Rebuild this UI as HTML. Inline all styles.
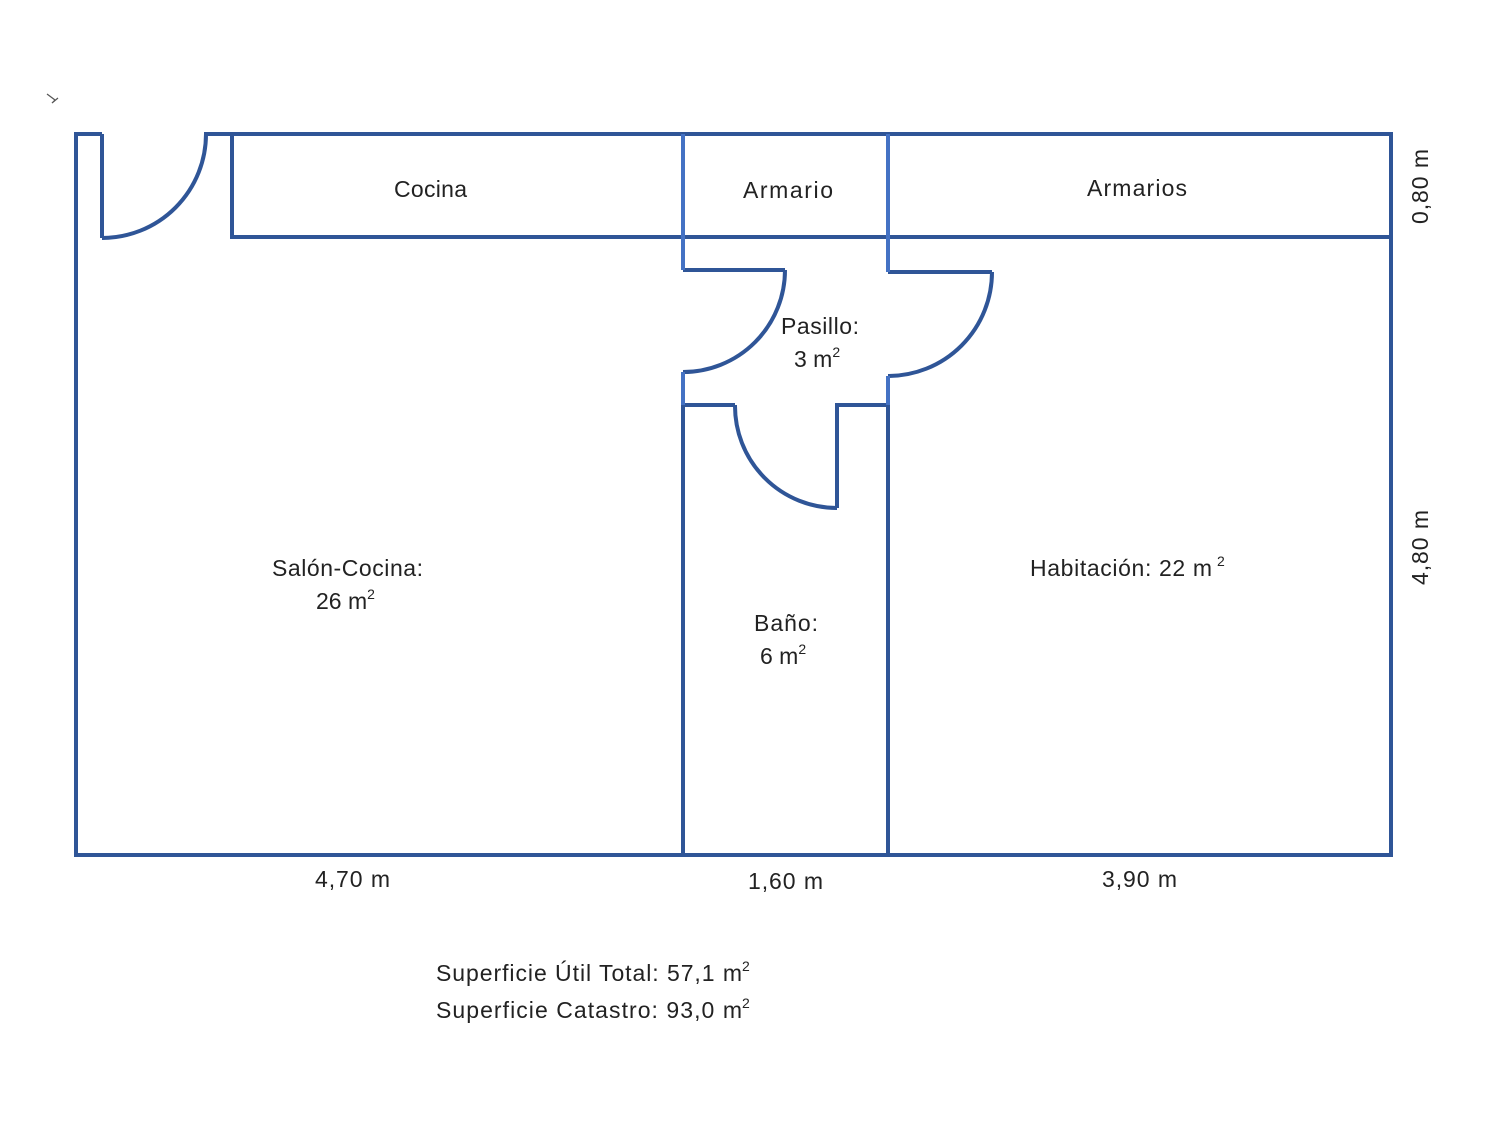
<!DOCTYPE html>
<html><head><meta charset="utf-8"><style>
html,body{margin:0;padding:0;background:#fff;}
svg{display:block;}
text{font-family:"Liberation Sans",sans-serif;font-size:23px;fill:#222;}
.s{font-size:14px;}
</style></head><body>
<svg width="1500" height="1125" viewBox="0 0 1500 1125" xmlns="http://www.w3.org/2000/svg">
<g fill="none" stroke="#2f5597" stroke-width="4">
  <polyline points="102,134 76,134 76,855 1391,855 1391,134 204,134"/>
  <line x1="102" y1="134" x2="102" y2="238"/>
  <path d="M102,238 A104,104 0 0 0 206,134"/>
  <polyline points="232,134 232,237 1391,237"/>
  <polyline points="683,270 785,270"/>
  <path d="M785,270 A102,102 0 0 1 683,372"/>
  <polyline points="888,272 992,272"/>
  <path d="M992,272 A104,104 0 0 1 888,376"/>
  <polyline points="683,405 683,855"/>
  <polyline points="888,405 888,855"/>
  <polyline points="683,405 735,405"/>
  <path d="M735,405 A102,102 0 0 0 837,508"/>
  <polyline points="837,508 837,405 888,405"/>
</g>
<g fill="none" stroke="#4472c4" stroke-width="4">
  <line x1="683" y1="134" x2="683" y2="270"/>
  <line x1="888" y1="134" x2="888" y2="272"/>
  <line x1="683" y1="372" x2="683" y2="405"/>
  <line x1="888" y1="376" x2="888" y2="405"/>
</g>
<g stroke="#555" stroke-width="1.2" fill="none"><path d="M47,94 L55,100 L52,103 L58,98"/></g>
<text x="394" y="197" textLength="73">Cocina</text>
<text x="743" y="198" textLength="90">Armario</text>
<text x="1087" y="196" textLength="100">Armarios</text>
<text x="781" y="334" textLength="78">Pasillo:</text>
<text x="794" y="367">3 m<tspan class="s" dy="-10">2</tspan></text>
<text x="272" y="576" textLength="151">Salón-Cocina:</text>
<text x="316" y="609">26 m<tspan class="s" dy="-10">2</tspan></text>
<text x="1030" y="576" textLength="182">Habitación: 22 m</text>
<text x="1217" y="566" class="s">2</text>
<text x="754" y="631" textLength="64">Baño:</text>
<text x="760" y="664">6 m<tspan class="s" dy="-10">2</tspan></text>
<text x="315" y="887" textLength="75">4,70 m</text>
<text x="748" y="889" textLength="75">1,60 m</text>
<text x="1102" y="887" textLength="75">3,90 m</text>
<text transform="translate(1428,224) rotate(-90)" textLength="75">0,80 m</text>
<text transform="translate(1428,585) rotate(-90)" textLength="75">4,80 m</text>
<text x="436" y="981" textLength="306">Superficie Útil Total: 57,1 m</text>
<text x="742" y="971" class="s">2</text>
<text x="436" y="1018" textLength="306">Superficie Catastro:  93,0 m</text>
<text x="742" y="1008" class="s">2</text>
</svg>
</body></html>
